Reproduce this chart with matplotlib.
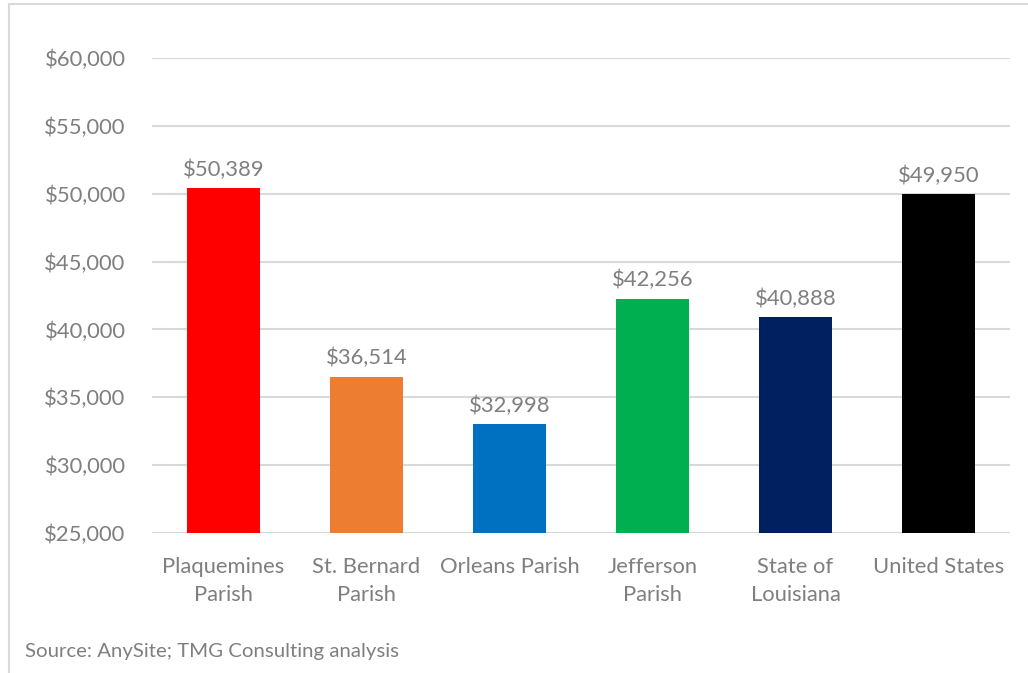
import matplotlib
matplotlib.use("Agg")
import matplotlib.pyplot as plt
from matplotlib.lines import Line2D
from matplotlib.ticker import FuncFormatter

categories = ["Plaquemines\nParish", "St. Bernard\nParish", "Orleans Parish",
              "Jefferson\nParish", "State of\nLouisiana", "United States"]
values = [50389, 36514, 32998, 42256, 40888, 49950]
colors = ["#FF0000", "#ED7D31", "#0070C0", "#00B050", "#002060", "#000000"]
y_ticks = [25000, 30000, 35000, 40000, 45000, 50000, 55000, 60000]
source = "Source: AnySite; TMG Consulting analysis"

text_gray = "#7F7F7F"
grid_gray = "#D9D9D9"
plt.rcParams["font.family"] = ["Lato", "DejaVu Sans"]

W, H = 1028, 673
fig = plt.figure(figsize=(W / 100, H / 100), dpi=100)
ax = fig.add_axes([152 / W, 1 - 533 / H, (1010 - 152) / W, (533 - 58) / H])

x = range(len(categories))
ax.bar(x, values, width=0.51, color=colors, zorder=3)

ax.set_ylim(y_ticks[0], y_ticks[-1])
ax.set_xlim(-0.5, len(categories) - 0.5)
ax.set_yticks(y_ticks)
ax.yaxis.set_major_formatter(FuncFormatter(lambda v, _: f"${v:,.0f}"))
ax.set_xticks(list(x))
ax.set_xticklabels(categories, linespacing=1.55)

ax.grid(axis="y", color=grid_gray, linewidth=1.5, zorder=0)
ax.tick_params(axis="both", length=0, labelsize=15.8, colors=text_gray)
ax.tick_params(axis="y", pad=19)
ax.tick_params(axis="x", pad=17)
for s in ax.spines.values():
    s.set_visible(False)

for xi, v in zip(x, values):
    ax.annotate(f"${v:,.0f}", (xi, v), xytext=(0, 6), textcoords="offset points",
                ha="center", va="bottom", fontsize=15.8, color=text_gray)

# outer chart border (left and top edges)
fig.add_artist(Line2D([8.5 / W, 8.5 / W], [0, 1 - 3.5 / H], transform=fig.transFigure,
                      color=grid_gray, linewidth=1.5))
fig.add_artist(Line2D([8.5 / W, 1], [1 - 3.5 / H, 1 - 3.5 / H], transform=fig.transFigure,
                      color=grid_gray, linewidth=1.5))

fig.text(25 / W, 1 - 652 / H, source, ha="left", va="center", fontsize=14.7, color=text_gray)

fig.savefig("out.png", dpi=100, facecolor="white")
